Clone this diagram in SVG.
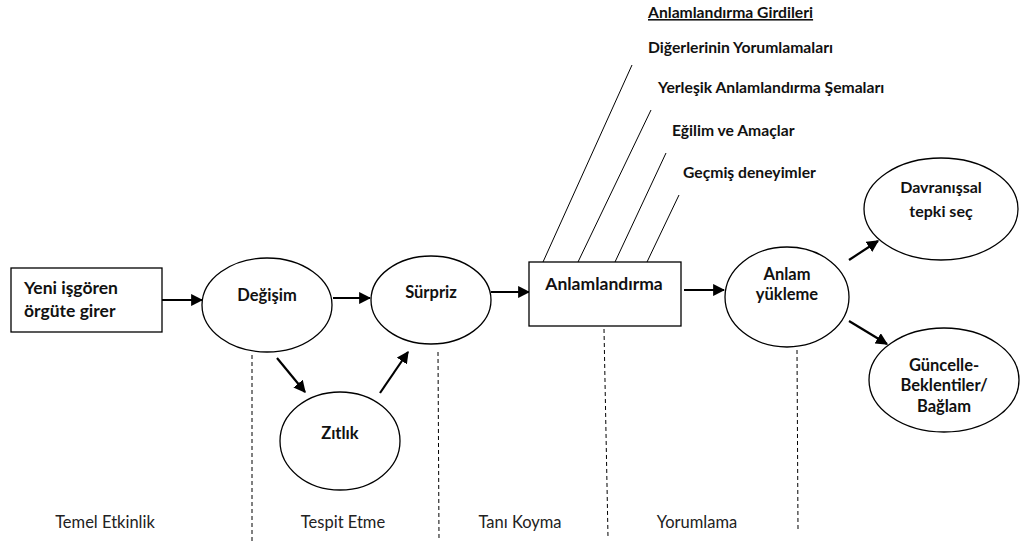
<svg xmlns="http://www.w3.org/2000/svg" width="1021" height="545" viewBox="0 0 1021 545">
<defs>
<style>
.shape{fill:#fff;stroke:#000;stroke-width:1.3}
.b{font-family:Lato,"Open Sans","Liberation Sans",sans-serif;font-weight:bold;font-size:16.5px;fill:#111}
.s{font-size:15.7px}
.r{font-family:Lato,"Open Sans","Liberation Sans",sans-serif;font-size:16.5px;fill:#222}
.c{text-anchor:middle}
.arrow{stroke:#000;stroke-width:2.2;fill:none;marker-end:url(#ah)}
.dash{stroke:#000;stroke-width:1;stroke-dasharray:4 3;fill:none}
.thin{stroke:#000;stroke-width:1;fill:none}
</style>
<marker id="ah" viewBox="0 0 10 10" refX="9" refY="5" markerWidth="5.5" markerHeight="5.5" orient="auto" markerUnits="strokeWidth">
<path d="M0,0 L10,5 L0,10 z" fill="#000"/>
</marker>
</defs>
<rect width="1021" height="545" fill="#fff"/>

<g id="connectors">
<line class="arrow" x1="162" y1="300" x2="202" y2="300"/>
<line class="arrow" x1="333" y1="298" x2="370" y2="298"/>
<line class="arrow" x1="277" y1="358" x2="305" y2="392"/>
<line class="arrow" x1="380" y1="393" x2="408" y2="352"/>
<line class="arrow" x1="491" y1="292" x2="529" y2="292"/>
<line class="arrow" x1="684" y1="290" x2="724" y2="290"/>
<line class="arrow" x1="849" y1="260" x2="878" y2="241"/>
<line class="arrow" x1="849" y1="321" x2="887" y2="344"/>
<line class="thin" x1="632" y1="65" x2="543" y2="262"/>
<line class="thin" x1="651" y1="110" x2="578" y2="262"/>
<line class="thin" x1="666" y1="153" x2="615" y2="262"/>
<line class="thin" x1="679" y1="195" x2="647" y2="262"/>
<line class="dash" x1="252" y1="355" x2="252" y2="541"/>
<line class="dash" x1="438" y1="352" x2="439" y2="539"/>
<line class="dash" x1="604" y1="329" x2="608" y2="537"/>
<line class="dash" x1="797" y1="350" x2="798" y2="529"/>
</g>

<g id="node-yeni">
<rect class="shape" x="11" y="268" width="151" height="64"/>
<text class="b" x="24" y="294" style="font-size:17.5px">Yeni işgören</text>
<text class="b" x="24" y="317" style="font-size:17.5px">örgüte girer</text>
</g>
<g id="node-degisim">
<ellipse class="shape" cx="267" cy="305" rx="65" ry="47"/>
<text class="b c" x="267" y="301">Değişim</text>
</g>
<g id="node-surpriz">
<ellipse class="shape" cx="431" cy="300" rx="60" ry="44"/>
<text class="b c" x="431" y="298">Sürpriz</text>
</g>
<g id="node-zitlik">
<ellipse class="shape" cx="340" cy="441" rx="60" ry="49"/>
<text class="b c" x="340" y="439">Zıtlık</text>
</g>
<g id="node-anlamlandirma">
<rect class="shape" x="529" y="262" width="152" height="64"/>
<text class="b c" x="604" y="290" style="font-size:17.5px">Anlamlandırma</text>
</g>
<g id="node-anlam">
<ellipse class="shape" cx="787" cy="297" rx="62" ry="50"/>
<text class="b c" x="787" y="280">Anlam</text>
<text class="b c" x="787" y="300">yükleme</text>
</g>
<g id="node-davranissal">
<ellipse class="shape" cx="941" cy="209" rx="77" ry="51"/>
<text class="b c" x="941" y="193" style="font-size:16px">Davranışsal</text>
<text class="b c" x="941" y="217" style="font-size:16px">tepki seç</text>
</g>
<g id="node-guncelle">
<ellipse class="shape" cx="944" cy="380" rx="75" ry="52"/>
<text class="b c" x="944" y="371">Güncelle-</text>
<text class="b c" x="944" y="391">Beklentiler/</text>
<text class="b c" x="944" y="412">Bağlam</text>
</g>

<g id="inputs">
<text class="b s" x="648" y="18" text-decoration="underline">Anlamlandırma Girdileri</text>
<text class="b s" x="648" y="53">Diğerlerinin Yorumlamaları</text>
<text class="b s" x="658" y="93">Yerleşik Anlamlandırma Şemaları</text>
<text class="b s" x="672" y="136">Eğilim ve Amaçlar</text>
<text class="b s" x="683" y="178">Geçmiş deneyimler</text>
</g>

<g id="phases">
<text class="r c" x="105" y="528">Temel Etkinlik</text>
<text class="r c" x="343" y="528">Tespit Etme</text>
<text class="r c" x="520" y="528">Tanı Koyma</text>
<text class="r c" x="697" y="528">Yorumlama</text>
</g>
</svg>
